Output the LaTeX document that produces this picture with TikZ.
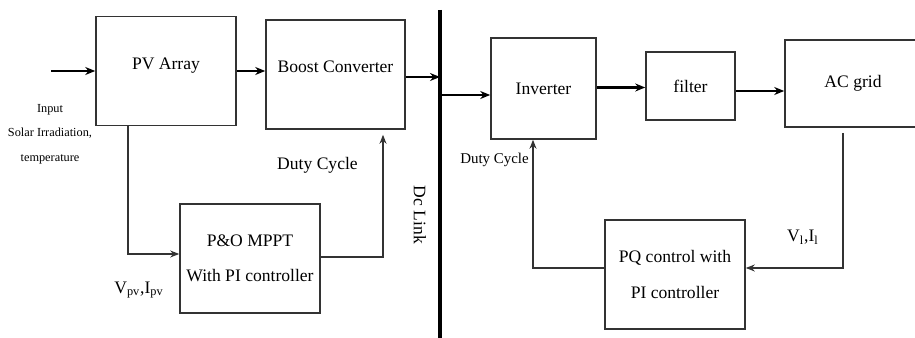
\documentclass[tikz,border=0pt]{standalone}
\usepackage{fontspec}
\setmainfont{Liberation Serif}
\usetikzlibrary{arrows.meta, positioning, calc}

\begin{document}
\begin{tikzpicture}[
    font=\fontsize{10}{12}\selectfont,
    box/.style={draw=black!80, line width=0.9pt, align=center, inner sep=2pt,
                minimum width=2.8cm, minimum height=2.18cm},
    upper/.style={text depth=0.3cm},
    flow/.style={-{Stealth[length=2mm, width=1.6mm]}, line width=1.3pt},
    arr/.style={-{Stealth[length=1.8mm, width=1.4mm]}, line width=0.8pt, black!80},
    lbl/.style={inner sep=1pt, align=center},
]
    \useasboundingbox (0,0) rectangle (18.3,6.76);

    %==================== DC SIDE ====================
    \node[box, upper] (pv) at (3.32,5.34) {PV Array};
    \node[box, upper, minimum width=2.78cm] (boost) at (6.71,5.27) {Boost Converter};
    \node[box, font=\fontsize{10}{20}\selectfont] (mppt) at (5.0,1.59)
        {P\&O MPPT\\With PI controller};

    \coordinate (in) at (1.02,5.34);
    \draw[flow] (in) -- (pv.west);
    \node[lbl, font=\fontsize{7}{14}\selectfont] (inlbl) at (1.0,4.08)
        {Input\\Solar Irradiation,\\temperature};

    \draw[flow] (pv.east) -- (pv.east -| boost.west);

    %==================== DC LINK ====================
    \coordinate (dctop) at (8.8,6.56);
    \coordinate (dcbot) at (8.8,0);
    \draw[line width=2.2pt] (dctop) -- (dcbot);
    \node[lbl, rotate=-90] (dclbl) at (8.4,2.46) {Dc Link};

    \draw[flow] ([yshift=-0.05cm]boost.east) -- ([yshift=-0.05cm]boost.east -| dctop);

    % measured feedback into MPPT
    \draw[arr] ([xshift=-0.76cm]pv.south) |- ([yshift=0.09cm]mppt.west);
    \node[lbl] (vpv) at (2.78,0.96) {V\textsubscript{pv},I\textsubscript{pv}};

    % duty cycle to boost converter
    \draw[arr] ([yshift=0.03cm]mppt.east) -| ([xshift=0.95cm,yshift=-0.1cm]boost.south);
    \node[lbl] (dleft) at (6.35,3.46) {Duty Cycle};

    %==================== AC SIDE ====================
    \node[box, minimum width=2.1cm, minimum height=2.02cm] (inv) at (10.87,4.99) {Inverter};
    \node[box, minimum width=1.78cm, minimum height=1.36cm] (filt) at (13.81,5.04) {filter};
    \node[box, minimum width=2.72cm, minimum height=1.74cm] (ac) at (17.06,5.09) {AC grid};
    \node[box, font=\fontsize{10}{20}\selectfont] (pq) at (13.5,1.27)
        {PQ control with\\PI controller};

    \draw[flow] ([yshift=-0.13cm]inv.west -| dctop) -- ([yshift=-0.13cm]inv.west);
    \draw[flow] ([yshift=0.02cm]inv.east) -- ([yshift=0.02cm]inv.east -| filt.west);
    \draw[flow] ([yshift=-0.1cm]filt.east) -- ([yshift=-0.1cm]filt.east -| ac.west);

    % grid measurement back to PQ control
    \draw[arr] ([xshift=-0.2cm,yshift=-0.1cm]ac.south) |- ([yshift=0.13cm]pq.east);
    \node[lbl] (vl) at (16.06,2.02) {V\textsubscript{l},I\textsubscript{l}};

    % duty cycle to inverter
    \draw[arr] ([yshift=0.13cm]pq.west) -| ([xshift=-0.21cm]inv.south);
    \node[lbl, font=\fontsize{8.5}{10}\selectfont] (dright) at (9.89,3.56) {Duty Cycle};

\end{tikzpicture}
\end{document}
